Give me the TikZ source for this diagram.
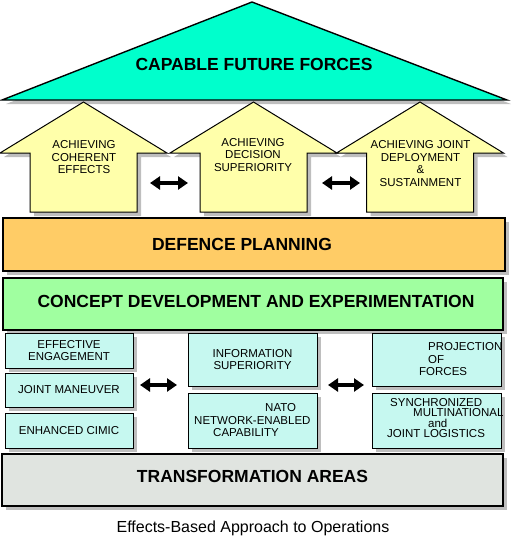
\documentclass[tikz,border=0pt]{standalone}
\usepackage{fontspec}
\setmainfont{Liberation Sans}
\usetikzlibrary{shadows,arrows.meta}
\definecolor{capgreen}{RGB}{0,255,204}
\definecolor{achyellow}{RGB}{255,255,170}
\definecolor{planorange}{RGB}{255,204,102}
\definecolor{cdegreen}{RGB}{160,255,160}
\definecolor{areacyan}{RGB}{198,248,240}
\definecolor{transgrey}{RGB}{224,228,224}
\definecolor{shadegrey}{RGB}{190,190,190}
\tikzset{
  shaded/.style={draw=black,drop shadow={shadow xshift=4pt,shadow yshift=-4pt,fill=shadegrey,opacity=1}},
  band/.style={shaded,line width=1.4pt,inner sep=0pt,font=\bfseries\fontsize{17.5}{20}\selectfont},
  area/.style={shaded,line width=0.9pt,fill=areacyan,inner sep=0pt,align=center,font=\fontsize{11.5}{12.5}\selectfont},
  small/.style={align=center,inner sep=0pt,font=\fontsize{11.5}{12.5}\selectfont},
  twoway/.style={{Triangle[length=10pt,width=13pt]}-{Triangle[length=10pt,width=13pt]},line width=3.2pt}
}
\begin{document}
\begin{tikzpicture}[x=1pt,y=-1pt]
  \useasboundingbox (0,0) rectangle (513,558);
  % roof
  \filldraw[shaded,fill=capgreen,line width=1.4pt] (252,2) -- (507,100) -- (2,100) -- cycle;
  \node[font=\bfseries\fontsize{17.5}{20}\selectfont] (forces) at (254,64) {CAPABLE FUTURE FORCES};
  % pillars
  \foreach \cx in {83.5,253.5,420}
    \filldraw[shaded,fill=achyellow,line width=1pt] (\cx,102) -- (\cx+83.5,153) -- (\cx+53.5,153)
      -- (\cx+53.5,212) -- (\cx-53.5,212) -- (\cx-53.5,153) -- (\cx-83.5,153) -- cycle;
  \node[small] (coh) at (84,157.5) {ACHIEVING\\COHERENT\\EFFECTS};
  \node[small] (dec) at (253,155) {ACHIEVING\\DECISION\\SUPERIORITY};
  \node[small] (dep) at (420.5,163.5) {ACHIEVING JOINT\\DEPLOYMENT\\\&\\SUSTAINMENT};
  \coordinate (p1) at (150,183);
  \coordinate (p2) at (188,183);
  \coordinate (p3) at (322,183);
  \coordinate (p4) at (360,183);
  \draw[twoway] (p1) -- (p2);
  \draw[twoway] (p3) -- (p4);
  % layers
  \node[band,fill=planorange,minimum width=502pt,minimum height=53pt] (plan) at (254,244.5) {\hspace*{-24pt}DEFENCE PLANNING};
  \node[band,fill=cdegreen,minimum width=500pt,minimum height=52pt,text height=12.5pt,text depth=6pt] (cde) at (253,304) {\hspace*{6pt}CONCEPT DEVELOPMENT AND EXPERIMENTATION};
  % transformation areas
  \node[area,minimum width=128pt,minimum height=35pt] (eng) at (69,350.5) {EFFECTIVE\\ENGAGEMENT};
  \node[area,minimum width=128pt,minimum height=34pt] (man) at (69,390) {JOINT MANEUVER};
  \node[area,minimum width=128pt,minimum height=35pt] (cimic) at (69,430.5) {ENHANCED CIMIC};
  \node[area,minimum width=129pt,minimum height=53pt] (info) at (252.5,359.5) {INFORMATION\\SUPERIORITY};
  \node[area,minimum width=129pt,minimum height=55pt] (nnec) at (252.5,420.5) {};
  \node[small,align=left,anchor=west] (nnect) at (194,420.5) {\hspace*{71pt}NATO\\NETWORK-ENABLED\\\hspace*{19pt}CAPABILITY};
  \node[area,minimum width=129pt,minimum height=53pt] (proj) at (436.5,359.5) {};
  \node[small,align=left,anchor=west] (projt) at (419,359.5) {\hspace*{9pt}PROJECTION\\\hspace*{9pt}OF\\FORCES};
  \node[area,minimum width=129pt,minimum height=55pt] (sync) at (436.5,420.5) {};
  \node[small,align=left,anchor=west,font=\fontsize{11.5}{10.5}\selectfont] (synct) at (387,418) {\hspace*{3pt}SYNCHRONIZED\\\hspace*{26pt}MULTINATIONAL\\\hspace*{41pt}and\\JOINT LOGISTICS};
  \coordinate (q1) at (140,385);
  \coordinate (q2) at (177,385);
  \coordinate (q3) at (328,385);
  \coordinate (q4) at (364,385);
  \draw[twoway] (q1) -- (q2);
  \draw[twoway] (q3) -- (q4);
  \node[band,fill=transgrey,minimum width=501pt,minimum height=52pt,text height=12.5pt,text depth=8pt] (trans) at (252.5,480) {TRANSFORMATION AREAS};
  % caption
  \node[font=\fontsize{16}{18}\selectfont] (caption) at (253,528) {Effects-Based Approach to Operations};
\end{tikzpicture}
\end{document}
